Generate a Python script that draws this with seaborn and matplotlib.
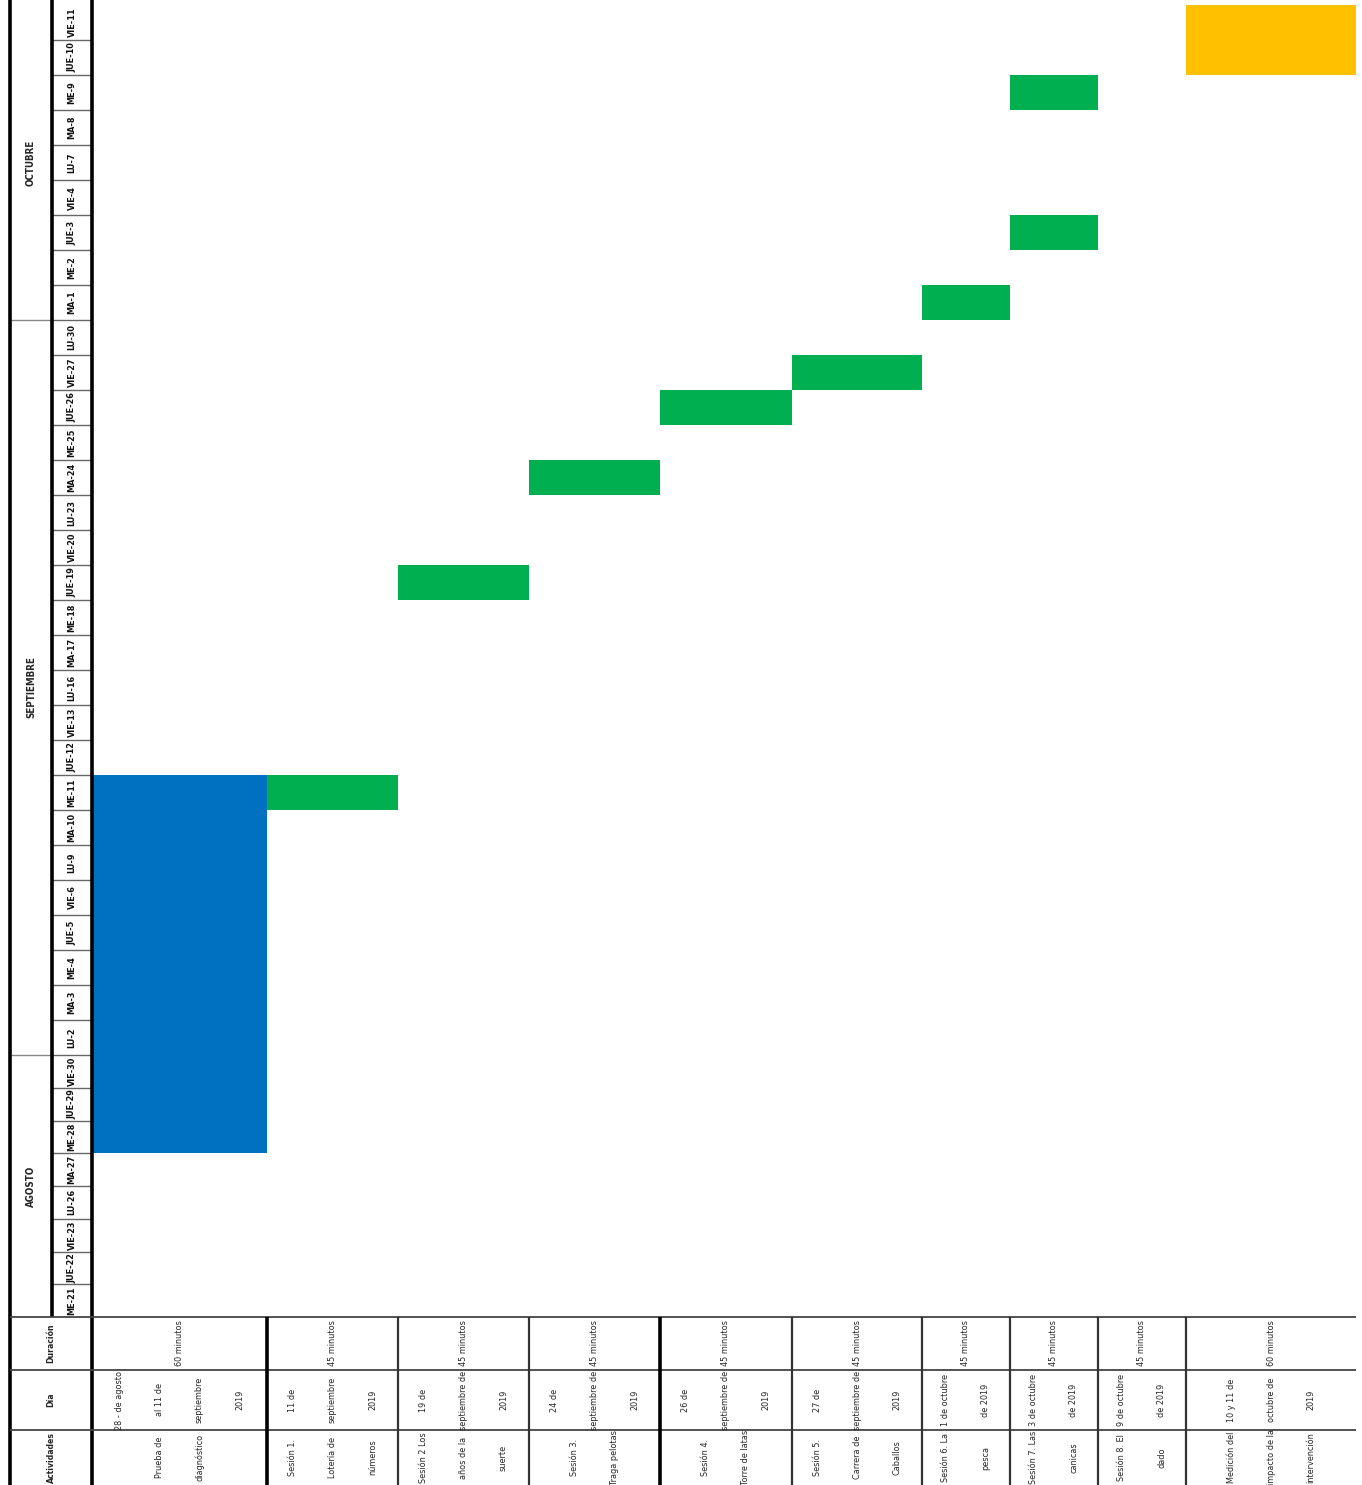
import numpy as np
import matplotlib.pyplot as plt
import seaborn as sns
from matplotlib import font_manager as fm

# --- data ---------------------------------------------------------------
months = ["AGOSTO", "SEPTIEMBRE", "OCTUBRE"]
days_agosto = ["ME-21", "JUE-22", "VIE-23", "LU-26", "MA-27", "ME-28", "JUE-29", "VIE-30"]
days_septiembre = ["LU-2", "MA-3", "ME-4", "JUE-5", "VIE-6", "LU-9", "MA-10", "ME-11",
                   "JUE-12", "VIE-13", "LU-16", "MA-17", "ME-18", "JUE-19", "VIE-20",
                   "LU-23", "MA-24", "ME-25", "JUE-26", "VIE-27", "LU-30"]
days_octubre = ["MA-1", "ME-2", "JUE-3", "VIE-4", "LU-7", "MA-8", "ME-9", "JUE-10", "VIE-11"]

activities = ["Prueba de\ndiagnóstico", "Sesión 1.\nLotería de\nnúmeros",
              "Sesión 2 Los\naños de la\nsuerte", "Sesión 3.\nTraga pelotas",
              "Sesión 4.\nTorre de latas", "Sesión 5.\nCarrera de\nCaballos",
              "Sesión 6. La\npesca", "Sesión 7. Las\ncanicas", "Sesión 8. El\ndado",
              "Medición del\nimpacto de la\nintervención"]
dates = ["28 - de agosto\nal 11 de\nseptiembre\n2019", "11 de\nseptiembre\n2019",
         "19 de\nseptiembre de\n2019", "24 de\nseptiembre de\n2019",
         "26 de\nseptiembre de\n2019", "27 de\nseptiembre de\n2019",
         "1 de octubre\nde 2019", "3 de octubre\nde 2019", "9 de octubre\nde 2019",
         "10 y 11 de\noctubre de\n2019"]
durations = ["60 minutos"] + ["45 minutos"] * 8 + ["60 minutos"]

# bars: column of the activity, first day, last day
task_col = [0, 1, 2, 3, 4, 5, 6, 7, 7, 9]
task_start = ["ME-28", "ME-11", "JUE-19", "MA-24", "JUE-26", "VIE-27", "MA-1", "JUE-3", "ME-9", "JUE-10"]
task_end = ["ME-11", "ME-11", "JUE-19", "MA-24", "JUE-26", "VIE-27", "MA-1", "JUE-3", "ME-9", "VIE-11"]
task_color = ["#0070C0"] + ["#00B050"] * 8 + ["#FFC000"]

# --- layout (pixels) ----------------------------------------------------
W, H = 1362, 1485
col_w = [175, 131, 131, 131, 132, 130, 88, 88, 88, 170]
month_rowh = [32.75, 35, 35]          # row height of each month block
x_left, x_month, x_day = 10, 52, 92
y_bot = 1317
row_y = [1317, 1370, 1430, 1485]

sns.set_theme(style="white")

# narrow font like Arial Narrow if there is one, otherwise condensed DejaVu
names = {f.name for f in fm.fontManager.ttflist}
if "Liberation Sans Narrow" in names:
    plt.rcParams['font.family'] = ['Liberation Sans Narrow', 'DejaVu Sans']
    stretch = "normal"
    fs = 7.5
else:
    plt.rcParams['font.family'] = ['DejaVu Sans']
    stretch = "condensed"
    fs = 6.5

month_days = [days_agosto, days_septiembre, days_octubre]
all_days = days_agosto + days_septiembre + days_octubre
n_days = len(all_days)
heights = np.concatenate([[h] * len(d) for h, d in zip(month_rowh, month_days)])
# edges[i] = lower edge of day i, edges[i+1] = upper edge (pixels, y downwards)
edges = y_bot - np.concatenate([[0], np.cumsum(heights)])
col_edges = x_day + np.concatenate([[0], np.cumsum(col_w)])
x_right = col_edges[-1]

fig = plt.figure(figsize=(W / 100, H / 100), dpi=100)
ax = fig.add_axes([0, 0, 1, 1])
ax.set_xlim(0, W)
ax.set_ylim(H, 0)
ax.axis("off")

# gantt bars
for c, s, e, col in zip(task_col, task_start, task_end, task_color):
    i0, i1 = all_days.index(s), all_days.index(e)
    lo, hi = min(i0, i1), max(i0, i1)
    top = edges[hi + 1]
    ax.bar(col_edges[c], edges[lo] - top, width=col_edges[c + 1] - col_edges[c],
           bottom=top, align="edge", color=col, linewidth=0)

# day labels + separators
for i, d in enumerate(all_days):
    yc = (edges[i] + edges[i + 1]) / 2
    ax.text((x_month + x_day) / 2, yc, d, rotation=90, ha="center", va="center",
            fontsize=fs, fontweight="bold", fontstretch=stretch, color="#111")
    if i < n_days - 1:
        ax.hlines(edges[i + 1], x_month, x_day, color="#666", lw=1)

# month labels
start = 0
for m, dl in zip(months, month_days):
    n = len(dl)
    y_lo, y_hi = edges[start], edges[start + n]
    ax.text((x_left + x_month) / 2, (y_lo + y_hi) / 2, m, rotation=90, ha="center",
            va="center", fontsize=fs + 0.5, fontweight="bold", fontstretch=stretch)
    if start + n < n_days:
        ax.hlines(y_hi, x_left, x_month, color="#888", lw=1)
    start += n

# frame lines
ax.vlines([x_left, x_day], 0, H, color="black", lw=2.6)
ax.vlines(x_month, 0, y_bot, color="black", lw=2.6)
ax.hlines(row_y[:3], x_left, x_right, color="#444", lw=1.3)
for k, xe in enumerate(col_edges[1:-1]):
    thick = k in (0, 3)
    ax.vlines(xe, y_bot, H, color="black" if thick else "#333", lw=2.6 if thick else 1.6)

# table text
headers = ["Duración", "Día", "Actividades"]
for r, h in enumerate(headers):
    ax.text((x_left + x_day) / 2, (row_y[r] + row_y[r + 1]) / 2, h, rotation=90,
            ha="center", va="center", fontsize=fs - 0.3, fontweight="bold",
            fontstretch=stretch)

pitch = 40
for c in range(len(col_w)):
    xc = (col_edges[c] + col_edges[c + 1]) / 2
    for r, txt in enumerate([durations[c], dates[c], activities[c]]):
        lines = txt.split("\n")
        yc = (row_y[r] + row_y[r + 1]) / 2
        p = min(pitch, (col_edges[c + 1] - col_edges[c]) / (len(lines) + 0.1))
        for j, ln in enumerate(lines):
            xx = xc + (j - (len(lines) - 1) / 2) * p
            ax.text(xx, yc, ln, rotation=90, ha="center", va="center",
                    fontsize=fs, fontstretch=stretch)

fig.savefig("out.png", dpi=100)
